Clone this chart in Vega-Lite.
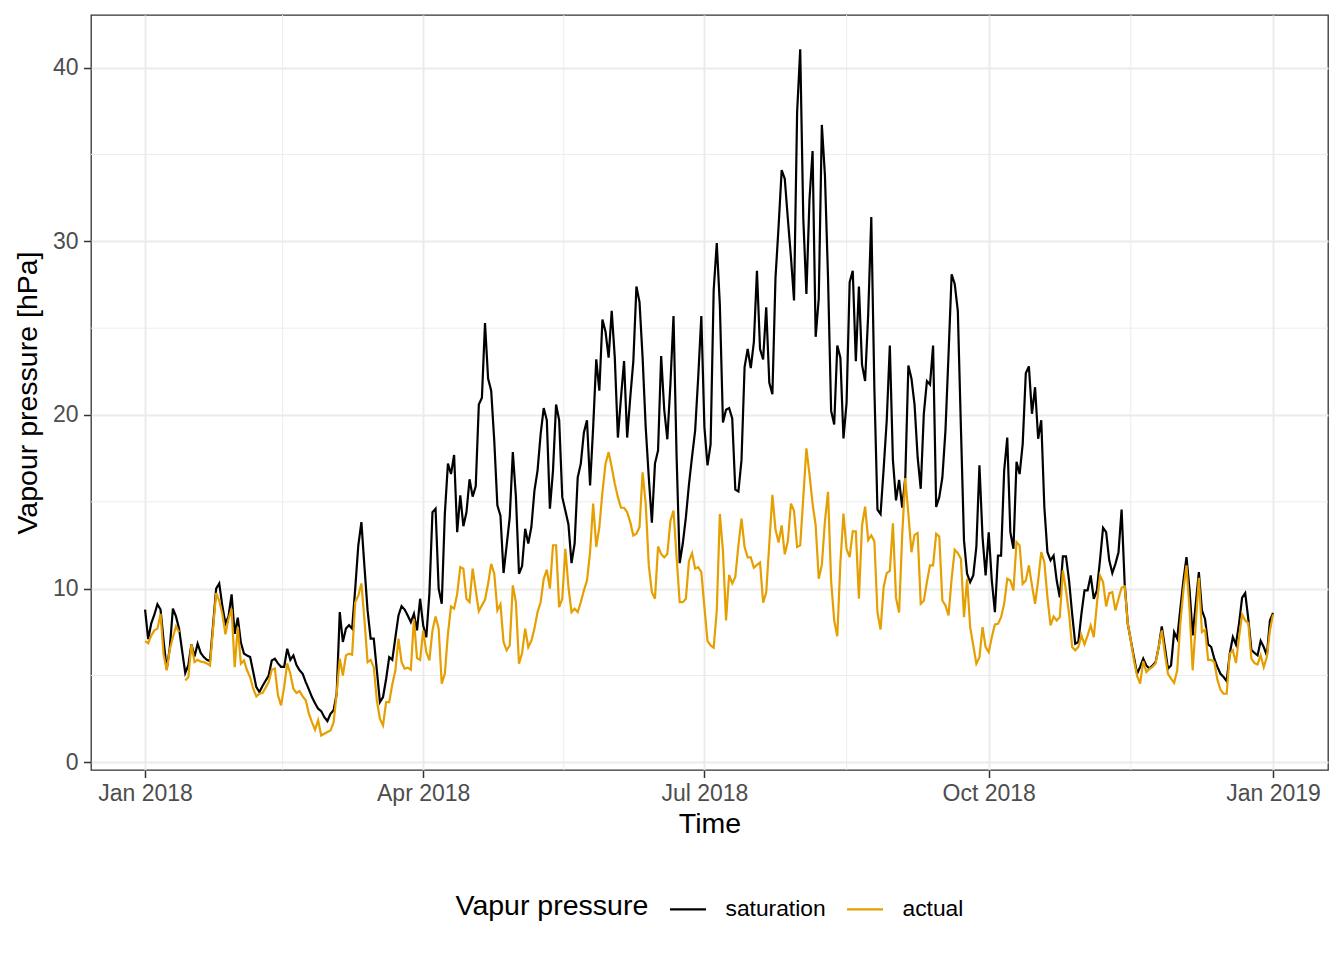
{
"$schema":"https://vega.github.io/schema/vega-lite/v6.json",
"width":1237,"height":755,
"autosize":{"type":"none"},
"padding":{"left":91,"top":15,"right":16,"bottom":190},
"config":{"font":"Liberation Sans","view":{"stroke":"#333333","strokeWidth":1.3},
"axis":{"domain":false,"grid":true,"gridColor":"#EBEBEB","gridWidth":1.9,"tickColor":"#333333","tickWidth":1.5,"tickSize":7.5,"labelColor":"#4D4D4D","labelFontSize":23,"titleFontSize":28.5,"titleFontWeight":"normal","titleColor":"#000000"}},
"datasets":{
"minorx":[{"d":"2018/02/14 12:00"},{"d":"2018/05/16 12:00"},{"d":"2018/08/16 00:00"},{"d":"2018/11/16 00:00"}],
"minory":[{"v":5},{"v":15},{"v":25},{"v":35}],
"vp":[
{"d":"2018/01/01","s":8.8,"a":6.98},{"d":"2018/01/02","s":7.1,"a":6.86},{"d":"2018/01/03","s":8.0,"a":7.3},{"d":"2018/01/04","s":8.5,"a":7.6},{"d":"2018/01/05","s":9.1,"a":7.7},{"d":"2018/01/06","s":8.8,"a":8.55},{"d":"2018/01/07","s":7.0,"a":6.2},{"d":"2018/01/08","s":5.35,"a":5.3},{"d":"2018/01/09","s":6.6,"a":6.5},{"d":"2018/01/10","s":8.85,"a":7.2},{"d":"2018/01/11","s":8.4,"a":7.83},{"d":"2018/01/12","s":7.7,"a":7.5},{"d":"2018/01/13","s":6.4,"a":null},{"d":"2018/01/14","s":5.15,"a":4.72},{"d":"2018/01/15","s":5.6,"a":4.9},{"d":"2018/01/16","s":6.8,"a":6.8},{"d":"2018/01/17","s":6.1,"a":5.77},{"d":"2018/01/18","s":6.83,"a":5.9},{"d":"2018/01/19","s":6.3,"a":5.8},{"d":"2018/01/20","s":6.06,"a":5.77},{"d":"2018/01/21","s":5.9,"a":5.7},{"d":"2018/01/22","s":5.83,"a":5.58},{"d":"2018/01/23","s":7.9,"a":7.7},{"d":"2018/01/24","s":10.0,"a":9.75},{"d":"2018/01/25","s":10.3,"a":9.3},{"d":"2018/01/26","s":9.0,"a":8.55},{"d":"2018/01/27","s":8.0,"a":7.37},{"d":"2018/01/28","s":8.4,"a":8.26},{"d":"2018/01/29","s":9.67,"a":8.84},{"d":"2018/01/30","s":7.4,"a":5.48},{"d":"2018/01/31","s":8.33,"a":7.8},
{"d":"2018/02/01","s":6.9,"a":5.68},{"d":"2018/02/02","s":6.26,"a":5.87},{"d":"2018/02/03","s":6.15,"a":5.3},{"d":"2018/02/04","s":6.06,"a":4.9},{"d":"2018/02/05","s":5.2,"a":4.24},{"d":"2018/02/06","s":4.33,"a":3.8},{"d":"2018/02/07","s":4.05,"a":3.95},{"d":"2018/02/08","s":4.4,"a":3.99},{"d":"2018/02/09","s":4.7,"a":4.3},{"d":"2018/02/10","s":5.0,"a":4.62},{"d":"2018/02/11","s":5.87,"a":5.33},{"d":"2018/02/12","s":5.97,"a":5.4},{"d":"2018/02/13","s":5.7,"a":3.86},{"d":"2018/02/14","s":5.5,"a":3.28},{"d":"2018/02/15","s":5.5,"a":4.33},{"d":"2018/02/16","s":6.54,"a":5.7},{"d":"2018/02/17","s":5.9,"a":5.1},{"d":"2018/02/18","s":6.16,"a":4.24},{"d":"2018/02/19","s":5.6,"a":3.99},{"d":"2018/02/20","s":5.3,"a":4.1},{"d":"2018/02/21","s":5.1,"a":3.8},{"d":"2018/02/22","s":4.62,"a":3.57},{"d":"2018/02/23","s":4.2,"a":2.8},{"d":"2018/02/24","s":3.76,"a":2.32},{"d":"2018/02/25","s":3.4,"a":1.88},{"d":"2018/02/26","s":3.09,"a":2.42},{"d":"2018/02/27","s":2.95,"a":1.55},{"d":"2018/02/28","s":2.6,"a":1.65},
{"d":"2018/03/01","s":2.38,"a":1.75},{"d":"2018/03/02","s":2.8,"a":1.84},{"d":"2018/03/03","s":3.0,"a":2.3},{"d":"2018/03/04","s":3.95,"a":3.95},{"d":"2018/03/05","s":8.65,"a":5.97},{"d":"2018/03/06","s":6.93,"a":5.0},{"d":"2018/03/07","s":7.7,"a":6.16},{"d":"2018/03/08","s":7.9,"a":6.26},{"d":"2018/03/09","s":7.7,"a":6.2},{"d":"2018/03/10","s":10.0,"a":9.22},{"d":"2018/03/11","s":12.5,"a":9.6},{"d":"2018/03/12","s":13.83,"a":10.3},{"d":"2018/03/13","s":11.24,"a":8.17},{"d":"2018/03/14","s":8.75,"a":5.77},{"d":"2018/03/15","s":7.12,"a":5.9},{"d":"2018/03/16","s":7.12,"a":5.48},{"d":"2018/03/17","s":5.3,"a":3.57},{"d":"2018/03/18","s":3.47,"a":2.5},{"d":"2018/03/19","s":3.76,"a":2.13},{"d":"2018/03/20","s":4.8,"a":3.47},{"d":"2018/03/21","s":6.06,"a":3.47},{"d":"2018/03/22","s":5.9,"a":4.5},{"d":"2018/03/23","s":7.2,"a":5.3},{"d":"2018/03/24","s":8.46,"a":7.12},{"d":"2018/03/25","s":9.0,"a":5.77},{"d":"2018/03/26","s":8.8,"a":5.4},{"d":"2018/03/27","s":8.46,"a":5.45},{"d":"2018/03/28","s":8.07,"a":5.33},{"d":"2018/03/29","s":8.55,"a":8.26},{"d":"2018/03/30","s":7.6,"a":6.0},{"d":"2018/03/31","s":9.42,"a":5.9},
{"d":"2018/04/01","s":7.88,"a":7.6},{"d":"2018/04/02","s":7.2,"a":6.35},{"d":"2018/04/03","s":9.7,"a":5.87},{"d":"2018/04/04","s":14.4,"a":7.6},{"d":"2018/04/05","s":14.6,"a":8.4},{"d":"2018/04/06","s":10.0,"a":7.7},{"d":"2018/04/07","s":9.13,"a":4.53},{"d":"2018/04/08","s":14.3,"a":5.1},{"d":"2018/04/09","s":17.2,"a":7.4},{"d":"2018/04/10","s":16.6,"a":8.98},{"d":"2018/04/11","s":17.7,"a":8.85},{"d":"2018/04/12","s":13.25,"a":9.7},{"d":"2018/04/13","s":15.37,"a":11.24},{"d":"2018/04/14","s":13.6,"a":11.15},{"d":"2018/04/15","s":14.4,"a":9.42},{"d":"2018/04/16","s":16.3,"a":9.22},{"d":"2018/04/17","s":15.3,"a":11.15},{"d":"2018/04/18","s":15.9,"a":9.9},{"d":"2018/04/19","s":20.6,"a":8.7},{"d":"2018/04/20","s":21.0,"a":9.04},{"d":"2018/04/21","s":25.3,"a":9.36},{"d":"2018/04/22","s":22.1,"a":10.28},{"d":"2018/04/23","s":21.4,"a":11.43},{"d":"2018/04/24","s":18.5,"a":10.86},{"d":"2018/04/25","s":14.8,"a":8.75},{"d":"2018/04/26","s":14.2,"a":9.1},{"d":"2018/04/27","s":10.9,"a":6.93},{"d":"2018/04/28","s":12.5,"a":6.45},{"d":"2018/04/29","s":14.1,"a":6.73},{"d":"2018/04/30","s":17.86,"a":10.19},
{"d":"2018/05/01","s":15.3,"a":9.22},{"d":"2018/05/02","s":10.86,"a":5.68},{"d":"2018/05/03","s":11.3,"a":6.3},{"d":"2018/05/04","s":13.45,"a":7.7},{"d":"2018/05/05","s":12.6,"a":6.63},{"d":"2018/05/06","s":13.55,"a":7.0},{"d":"2018/05/07","s":15.65,"a":7.7},{"d":"2018/05/08","s":16.8,"a":8.65},{"d":"2018/05/09","s":18.9,"a":9.22},{"d":"2018/05/10","s":20.4,"a":10.57},{"d":"2018/05/11","s":19.7,"a":11.09},{"d":"2018/05/12","s":14.6,"a":10.0},{"d":"2018/05/13","s":16.8,"a":12.5},{"d":"2018/05/14","s":20.6,"a":12.5},{"d":"2018/05/15","s":19.7,"a":8.94},{"d":"2018/05/16","s":15.27,"a":9.42},{"d":"2018/05/17","s":14.5,"a":12.3},{"d":"2018/05/18","s":13.7,"a":10.1},{"d":"2018/05/19","s":11.47,"a":8.65},{"d":"2018/05/20","s":12.6,"a":8.85},{"d":"2018/05/21","s":16.4,"a":8.65},{"d":"2018/05/22","s":17.2,"a":9.22},{"d":"2018/05/23","s":19.0,"a":9.9},{"d":"2018/05/24","s":19.7,"a":10.47},{"d":"2018/05/25","s":15.94,"a":12.1},{"d":"2018/05/26","s":19.3,"a":14.9},{"d":"2018/05/27","s":23.2,"a":12.4},{"d":"2018/05/28","s":21.4,"a":13.55},{"d":"2018/05/29","s":25.5,"a":15.56},{"d":"2018/05/30","s":24.8,"a":17.2},{"d":"2018/05/31","s":23.3,"a":17.86},
{"d":"2018/06/01","s":26.0,"a":17.0},{"d":"2018/06/02","s":23.3,"a":16.04},{"d":"2018/06/03","s":18.7,"a":15.27},{"d":"2018/06/04","s":21.0,"a":14.66},{"d":"2018/06/05","s":23.1,"a":14.66},{"d":"2018/06/06","s":18.7,"a":14.4},{"d":"2018/06/07","s":21.0,"a":13.83},{"d":"2018/06/08","s":23.1,"a":13.06},{"d":"2018/06/09","s":27.4,"a":13.16},{"d":"2018/06/10","s":26.5,"a":13.55},{"d":"2018/06/11","s":23.3,"a":16.7},{"d":"2018/06/12","s":19.3,"a":14.9},{"d":"2018/06/13","s":16.4,"a":11.34},{"d":"2018/06/14","s":13.8,"a":9.8},{"d":"2018/06/15","s":17.2,"a":9.42},{"d":"2018/06/16","s":17.96,"a":12.43},{"d":"2018/06/17","s":23.4,"a":12.0},{"d":"2018/06/18","s":20.3,"a":11.8},{"d":"2018/06/19","s":18.6,"a":12.0},{"d":"2018/06/20","s":21.8,"a":13.9},{"d":"2018/06/21","s":25.7,"a":14.5},{"d":"2018/06/22","s":17.6,"a":11.8},{"d":"2018/06/23","s":11.47,"a":9.22},{"d":"2018/06/24","s":12.6,"a":9.22},{"d":"2018/06/25","s":14.1,"a":9.42},{"d":"2018/06/26","s":16.0,"a":11.6},{"d":"2018/06/27","s":17.6,"a":12.05},{"d":"2018/06/28","s":19.1,"a":11.15},{"d":"2018/06/29","s":22.2,"a":11.24},{"d":"2018/06/30","s":25.7,"a":10.95},
{"d":"2018/07/01","s":19.3,"a":8.94},{"d":"2018/07/02","s":17.1,"a":7.0},{"d":"2018/07/03","s":18.3,"a":6.73},{"d":"2018/07/04","s":27.2,"a":6.6},{"d":"2018/07/05","s":29.9,"a":8.74},{"d":"2018/07/06","s":26.3,"a":14.3},{"d":"2018/07/07","s":19.57,"a":12.16},{"d":"2018/07/08","s":20.3,"a":8.17},{"d":"2018/07/09","s":20.4,"a":10.8},{"d":"2018/07/10","s":19.8,"a":10.3},{"d":"2018/07/11","s":15.7,"a":10.68},{"d":"2018/07/12","s":15.6,"a":12.5},{"d":"2018/07/13","s":17.4,"a":14.03},{"d":"2018/07/14","s":22.76,"a":12.4},{"d":"2018/07/15","s":23.8,"a":11.8},{"d":"2018/07/16","s":22.7,"a":11.8},{"d":"2018/07/17","s":24.2,"a":11.2},{"d":"2018/07/18","s":28.3,"a":11.37},{"d":"2018/07/19","s":23.8,"a":11.5},{"d":"2018/07/20","s":23.2,"a":9.2},{"d":"2018/07/21","s":26.2,"a":9.77},{"d":"2018/07/22","s":21.85,"a":12.6},{"d":"2018/07/23","s":21.2,"a":15.4},{"d":"2018/07/24","s":27.9,"a":13.4},{"d":"2018/07/25","s":30.85,"a":12.66},{"d":"2018/07/26","s":34.1,"a":13.64},{"d":"2018/07/27","s":33.6,"a":11.98},{"d":"2018/07/28","s":31.3,"a":12.73},{"d":"2018/07/29","s":29.1,"a":14.9},{"d":"2018/07/30","s":26.6,"a":14.49},{"d":"2018/07/31","s":37.45,"a":12.4},
{"d":"2018/08/01","s":41.05,"a":12.5},{"d":"2018/08/02","s":31.3,"a":15.24},{"d":"2018/08/03","s":26.97,"a":18.08},{"d":"2018/08/04","s":32.4,"a":16.6},{"d":"2018/08/05","s":35.2,"a":14.9},{"d":"2018/08/06","s":24.5,"a":13.64},{"d":"2018/08/07","s":26.7,"a":10.57},{"d":"2018/08/08","s":36.7,"a":11.37},{"d":"2018/08/09","s":33.8,"a":13.87},{"d":"2018/08/10","s":27.9,"a":15.58},{"d":"2018/08/11","s":20.25,"a":10.45},{"d":"2018/08/12","s":19.45,"a":8.17},{"d":"2018/08/13","s":24.0,"a":7.26},{"d":"2018/08/14","s":23.3,"a":11.48},{"d":"2018/08/15","s":18.65,"a":14.32},{"d":"2018/08/16","s":20.7,"a":12.28},{"d":"2018/08/17","s":27.65,"a":11.82},{"d":"2018/08/18","s":28.3,"a":13.3},{"d":"2018/08/19","s":23.1,"a":13.3},{"d":"2018/08/20","s":27.4,"a":9.43},{"d":"2018/08/21","s":22.9,"a":13.64},{"d":"2018/08/22","s":21.96,"a":14.72},{"d":"2018/08/23","s":25.8,"a":12.8},{"d":"2018/08/24","s":31.4,"a":13.07},{"d":"2018/08/25","s":21.5,"a":12.73},{"d":"2018/08/26","s":14.55,"a":8.63},{"d":"2018/08/27","s":14.3,"a":7.65},{"d":"2018/08/28","s":16.9,"a":10.1},{"d":"2018/08/29","s":19.7,"a":10.9},{"d":"2018/08/30","s":24.0,"a":11.02},{"d":"2018/08/31","s":17.4,"a":13.76},
{"d":"2018/09/01","s":15.08,"a":9.47},{"d":"2018/09/02","s":16.26,"a":8.63},{"d":"2018/09/03","s":14.67,"a":13.07},{"d":"2018/09/04","s":16.4,"a":16.37},{"d":"2018/09/05","s":22.85,"a":14.3},{"d":"2018/09/06","s":22.1,"a":12.1},{"d":"2018/09/07","s":20.6,"a":13.1},{"d":"2018/09/08","s":17.57,"a":13.2},{"d":"2018/09/09","s":15.75,"a":9.13},{"d":"2018/09/10","s":20.07,"a":9.3},{"d":"2018/09/11","s":21.95,"a":10.38},{"d":"2018/09/12","s":21.75,"a":11.34},{"d":"2018/09/13","s":24.0,"a":11.34},{"d":"2018/09/14","s":14.7,"a":13.16},{"d":"2018/09/15","s":15.27,"a":13.0},{"d":"2018/09/16","s":16.4,"a":9.32},{"d":"2018/09/17","s":19.1,"a":9.04},{"d":"2018/09/18","s":23.5,"a":8.46},{"d":"2018/09/19","s":28.1,"a":10.57},{"d":"2018/09/20","s":27.55,"a":12.24},{"d":"2018/09/21","s":26.0,"a":12.05},{"d":"2018/09/22","s":19.3,"a":11.72},{"d":"2018/09/23","s":12.78,"a":8.36},{"d":"2018/09/24","s":10.86,"a":10.57},{"d":"2018/09/25","s":10.38,"a":7.79},{"d":"2018/09/26","s":10.76,"a":6.73},{"d":"2018/09/27","s":12.4,"a":5.68},{"d":"2018/09/28","s":17.1,"a":6.06},{"d":"2018/09/29","s":12.97,"a":7.79},{"d":"2018/09/30","s":10.76,"a":6.64},
{"d":"2018/10/01","s":13.25,"a":6.35},{"d":"2018/10/02","s":10.47,"a":7.21},{"d":"2018/10/03","s":8.65,"a":7.94},{"d":"2018/10/04","s":11.9,"a":7.98},{"d":"2018/10/05","s":11.9,"a":8.36},{"d":"2018/10/06","s":16.8,"a":9.13},{"d":"2018/10/07","s":18.7,"a":10.57},{"d":"2018/10/08","s":13.25,"a":10.47},{"d":"2018/10/09","s":12.3,"a":9.9},{"d":"2018/10/10","s":17.3,"a":12.68},{"d":"2018/10/11","s":16.6,"a":12.49},{"d":"2018/10/12","s":18.34,"a":10.28},{"d":"2018/10/13","s":22.4,"a":10.47},{"d":"2018/10/14","s":22.8,"a":11.34},{"d":"2018/10/15","s":20.07,"a":10.19},{"d":"2018/10/16","s":21.6,"a":9.13},{"d":"2018/10/17","s":18.63,"a":10.47},{"d":"2018/10/18","s":19.7,"a":12.1},{"d":"2018/10/19","s":14.7,"a":11.53},{"d":"2018/10/20","s":12.1,"a":9.51},{"d":"2018/10/21","s":11.63,"a":7.88},{"d":"2018/10/22","s":11.9,"a":8.4},{"d":"2018/10/23","s":10.47,"a":8.17},{"d":"2018/10/24","s":9.5,"a":8.36},{"d":"2018/10/25","s":11.86,"a":11.05},{"d":"2018/10/26","s":11.86,"a":9.9},{"d":"2018/10/27","s":10.47,"a":8.55},{"d":"2018/10/28","s":8.55,"a":6.64},{"d":"2018/10/29","s":6.83,"a":6.45},{"d":"2018/10/30","s":6.93,"a":6.64},{"d":"2018/10/31","s":8.55,"a":7.31},
{"d":"2018/11/01","s":9.9,"a":6.79},{"d":"2018/11/02","s":9.9,"a":7.31},{"d":"2018/11/03","s":10.76,"a":7.88},{"d":"2018/11/04","s":9.42,"a":7.21},{"d":"2018/11/05","s":9.9,"a":9.13},{"d":"2018/11/06","s":11.63,"a":10.76},{"d":"2018/11/07","s":13.5,"a":10.38},{"d":"2018/11/08","s":13.25,"a":8.98},{"d":"2018/11/09","s":11.63,"a":9.75},{"d":"2018/11/10","s":10.9,"a":9.8},{"d":"2018/11/11","s":11.43,"a":8.75},{"d":"2018/11/12","s":12.1,"a":9.42},{"d":"2018/11/13","s":14.55,"a":10.05},{"d":"2018/11/14","s":10.28,"a":10.13},{"d":"2018/11/15","s":7.98,"a":7.98},{"d":"2018/11/16","s":7.0,"a":7.0},{"d":"2018/11/17","s":6.06,"a":5.87},{"d":"2018/11/18","s":5.1,"a":5.0},{"d":"2018/11/19","s":5.5,"a":4.53},{"d":"2018/11/20","s":5.97,"a":5.83},{"d":"2018/11/21","s":5.58,"a":5.2},{"d":"2018/11/22","s":5.4,"a":5.39},{"d":"2018/11/23","s":5.58,"a":5.5},{"d":"2018/11/24","s":5.77,"a":5.7},{"d":"2018/11/25","s":6.64,"a":6.64},{"d":"2018/11/26","s":7.83,"a":7.6},{"d":"2018/11/27","s":6.64,"a":6.26},{"d":"2018/11/28","s":5.4,"a":5.1},{"d":"2018/11/29","s":5.58,"a":4.82},{"d":"2018/11/30","s":7.5,"a":4.57},
{"d":"2018/12/01","s":7.12,"a":5.3},{"d":"2018/12/02","s":8.84,"a":7.98},{"d":"2018/12/03","s":10.47,"a":9.9},{"d":"2018/12/04","s":11.82,"a":11.34},{"d":"2018/12/05","s":9.9,"a":8.75},{"d":"2018/12/06","s":7.31,"a":5.3},{"d":"2018/12/07","s":9.13,"a":7.98},{"d":"2018/12/08","s":10.95,"a":10.63},{"d":"2018/12/09","s":8.75,"a":7.5},{"d":"2018/12/10","s":8.26,"a":7.64},{"d":"2018/12/11","s":6.79,"a":5.9},{"d":"2018/12/12","s":6.64,"a":5.9},{"d":"2018/12/13","s":5.97,"a":5.77},{"d":"2018/12/14","s":5.5,"a":4.76},{"d":"2018/12/15","s":5.1,"a":4.18},{"d":"2018/12/16","s":4.91,"a":3.95},{"d":"2018/12/17","s":4.68,"a":3.95},{"d":"2018/12/18","s":6.26,"a":6.26},{"d":"2018/12/19","s":7.21,"a":6.45},{"d":"2018/12/20","s":6.79,"a":5.72},{"d":"2018/12/21","s":7.98,"a":7.21},{"d":"2018/12/22","s":9.48,"a":8.52},{"d":"2018/12/23","s":9.75,"a":8.17},{"d":"2018/12/24","s":8.26,"a":8.02},{"d":"2018/12/25","s":6.48,"a":5.97},{"d":"2018/12/26","s":6.3,"a":5.72},{"d":"2018/12/27","s":6.16,"a":5.64},{"d":"2018/12/28","s":7.0,"a":6.16},{"d":"2018/12/29","s":6.64,"a":5.48},{"d":"2018/12/30","s":6.16,"a":6.06},{"d":"2018/12/31","s":8.17,"a":7.6},{"d":"2019/01/01","s":8.6,"a":8.52}
]},
"layer":[
{"data":{"name":"minorx"},"mark":{"type":"rule","color":"#EBEBEB","strokeWidth":0.95},
 "encoding":{"x":{"field":"d","type":"temporal"}}},
{"data":{"name":"minory"},"mark":{"type":"rule","color":"#EBEBEB","strokeWidth":0.95},
 "encoding":{"y":{"field":"v","type":"quantitative"}}},
{"data":{"name":"vp"},"mark":{"type":"line","strokeWidth":2.2,"invalid":"break-paths-show-domains"},
 "encoding":{
  "x":{"field":"d","type":"temporal","title":"Time",
   "scale":{"domain":[{"year":2017,"month":12,"date":14,"hours":12},{"year":2019,"month":1,"date":18,"hours":19}],"nice":false},
   "axis":{"values":[{"year":2018,"month":1,"date":1},{"year":2018,"month":4,"date":1},{"year":2018,"month":7,"date":1},{"year":2018,"month":10,"date":1},{"year":2019,"month":1,"date":1}],"format":"%b %Y","labelPadding":4.5,"titlePadding":4,"labelFlush":false,"labelOverlap":false}},
  "y":{"field":"s","type":"quantitative","title":"Vapour pressure [hPa]",
   "scale":{"domain":[-0.44,43.03],"nice":false,"zero":false},
   "axis":{"values":[0,10,20,30,40],"labelPadding":5.5,"titlePadding":10}},
  "color":{"datum":"saturation","type":"nominal","title":"Vapur pressure",
   "scale":{"domain":["saturation","actual"],"range":["#000000","#E69F00"]},
   "legend":{"orient":"none","legendX":364.5,"legendY":874.5,"direction":"horizontal","titleOrient":"left","titleLimit":600,"titleFontSize":28.5,"titleFontWeight":"normal","titleColor":"#000000","titlePadding":20,"labelFontSize":22.8,"labelColor":"#000000","labelLimit":400,"labelOffset":18,"columnPadding":16,"symbolType":"stroke","symbolSize":1296,"symbolStrokeWidth":2.2}}}},
{"data":{"name":"vp"},"mark":{"type":"line","strokeWidth":2.2,"invalid":"break-paths-show-domains"},
 "encoding":{
  "x":{"field":"d","type":"temporal","title":"Time"},
  "y":{"field":"a","type":"quantitative","title":"Vapour pressure [hPa]"},
  "color":{"datum":"actual","type":"nominal","title":"Vapur pressure"}}}
]
}
